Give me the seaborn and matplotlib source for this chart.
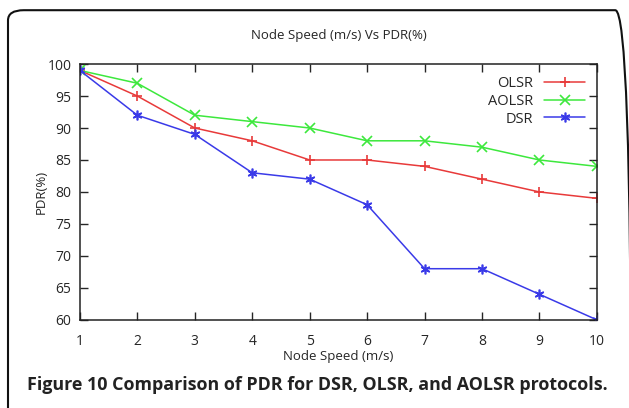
import numpy as np
import pandas as pd
import matplotlib
matplotlib.use("Agg")
import matplotlib.pyplot as plt
import seaborn as sns
from matplotlib.patches import FancyBboxPatch
from matplotlib.lines import Line2D

speed = [1, 2, 3, 4, 5, 6, 7, 8, 9, 10]
olsr = [99, 95, 90, 88, 85, 85, 84, 82, 80, 79]
aolsr = [99, 97, 92, 91, 90, 88, 88, 87, 85, 84]
dsr = [99, 92, 89, 83, 82, 78, 68, 68, 64, 60]
protocols = ["OLSR", "AOLSR", "DSR"]
colors = ["#e83a3a", "#3de83d", "#3a3ae8"]
markers = ["+", "x", (6, 2, 0)]

sns.set_style("ticks")
plt.rcParams['font.family'] = ['Open Sans', 'DejaVu Sans']

df = pd.DataFrame({
    "speed": speed * 3,
    "pdr": olsr + aolsr + dsr,
    "protocol": ["OLSR"] * 10 + ["AOLSR"] * 10 + ["DSR"] * 10,
})

fig = plt.figure(figsize=(6.29, 4.08), dpi=100)
ax = fig.add_axes([0.127, 0.216, 0.822, 0.627])

sns.lineplot(data=df, x="speed", y="pdr", hue="protocol", style="protocol",
             hue_order=protocols, style_order=protocols,
             palette=colors, markers=markers, dashes=False,
             markersize=7, markeredgewidth=1.2, linewidth=1.1, ax=ax,
             legend=False)
for line, c in zip(ax.lines, colors):
    line.set_markeredgecolor(c)

ax.set_xlim(1, 10)
ax.set_ylim(60, 100)
ax.set_xticks(speed)
ax.set_yticks(np.arange(60, 101, 5))
ax.tick_params(direction="in", top=True, right=True, length=6, width=1,
               labelsize=10, pad=6)
ax.tick_params(axis="x", pad=10)
for s in ax.spines.values():
    s.set_linewidth(1.1)
    s.set_color("#222222")

ax.set_title("Node Speed (m/s) Vs PDR(%)", fontsize=9.5, pad=18)
ax.set_xlabel("Node Speed (m/s)", fontsize=9.5, labelpad=1)
ax.set_ylabel("PDR(%)", fontsize=9.5, labelpad=0)

handles = [Line2D([], [], color=c, marker=m, markersize=7, markeredgewidth=1.2,
                  markeredgecolor=c, linewidth=1.1)
           for c, m in zip(colors, markers)]
leg = ax.legend(handles, protocols, loc="upper right", frameon=False,
                markerfirst=False, fontsize=10.5, handlelength=2.8,
                labelspacing=0.2, borderaxespad=0.4)
for t in leg.get_texts():
    t.set_ha("right")

box = FancyBboxPatch((8 / 629, -0.1), 623 / 629, 0.975 + 0.1,
                     boxstyle="round,pad=0,rounding_size=0.025",
                     transform=fig.transFigure, fill=False,
                     edgecolor="#111111", linewidth=1.5, clip_on=False)
fig.patches.append(box)

fig.text(27 / 629, 1 - 385 / 408,
         "Figure 10 Comparison of PDR for DSR, OLSR, and AOLSR protocols.",
         fontsize=12.9, fontweight="bold", va="center", ha="left", color="#222222")

fig.savefig("out.png", dpi=100)
